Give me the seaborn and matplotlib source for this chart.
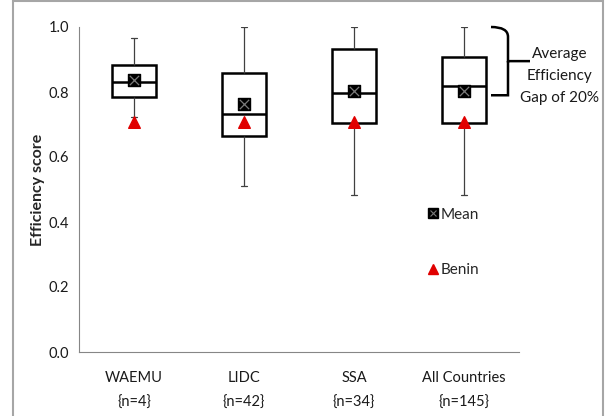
import numpy as np
import pandas as pd
import seaborn as sns
import matplotlib.pyplot as plt
from matplotlib.lines import Line2D
from matplotlib.path import Path
from matplotlib.patches import PathPatch

# five-number summaries (min, q1, median, q3, max)
groups = ["WAEMU", "LIDC", "SSA", "All Countries"]
counts = [4, 42, 34, 145]
mins = [0.724, 0.512, 0.483, 0.483]
q1s = [0.785, 0.666, 0.704, 0.704]
medians = [0.832, 0.732, 0.798, 0.817]
q3s = [0.883, 0.857, 0.931, 0.907]
maxs = [0.967, 1.0, 1.0, 1.0]
means = [0.838, 0.764, 0.804, 0.804]
benin = [0.708, 0.708, 0.708, 0.708]

sns.set_theme(style="white")
plt.rcParams["font.family"] = ["Lato", "DejaVu Sans"]

# with 5 points per group and whis=(0,100) the box stats equal the summary
rows = []
for g, a, b, c, d, e in zip(groups, mins, q1s, medians, q3s, maxs):
    for v in (a, b, c, d, e):
        rows.append({"group": g, "score": v})
df = pd.DataFrame(rows)

fig = plt.figure(figsize=(6.07, 4.16), dpi=100)
ax = fig.add_axes([79 / 607, 1 - 352 / 416, 440 / 607, 325 / 416])

sns.boxplot(data=df, x="group", y="score", order=groups, whis=(0, 100),
            width=0.4, color="white", linecolor="black", linewidth=1.8,
            whiskerprops={"linewidth": 0.9, "color": "#404040"},
            capprops={"linewidth": 0.9, "color": "#404040"},
            medianprops={"linewidth": 1.8, "color": "black"},
            capwidths=0.06, ax=ax)

pos = np.arange(len(groups))
ax.scatter(pos, means, marker="s", s=70, color="black", zorder=5)
ax.scatter(pos, means, marker="x", s=45, color="#7a7a7a", linewidths=0.9, zorder=6)
ax.scatter(pos, benin, marker="^", s=70, color="#e00000", zorder=5)

ax.set_xlim(-0.5, 3.5)
ax.set_ylim(0, 1.0)
ax.set_yticks(np.arange(0, 1.01, 0.2))
ax.set_yticklabels([f"{v:.1f}" for v in np.arange(0, 1.01, 0.2)], fontsize=10.5)
ax.set_xticks([-0.5, 0.5, 1.5, 2.5, 3.5])
ax.set_xticklabels([])
ax.set_xticks(pos, minor=True)
ax.set_xticklabels([f"{g}\n{{n={n}}}" for g, n in zip(groups, counts)],
                   minor=True, fontsize=10.5, linespacing=1.9)
ax.tick_params(axis="x", which="major", length=5, width=0.8, color="#868686", direction="out")
ax.tick_params(axis="x", which="minor", length=0, pad=14)
ax.tick_params(axis="y", length=4, width=0.8, color="#868686", direction="out", pad=3)
for side in ["top", "right"]:
    ax.spines[side].set_visible(False)
for side in ["left", "bottom"]:
    ax.spines[side].set_color("#868686")
    ax.spines[side].set_linewidth(0.8)
ax.set_xlabel("")
ax.set_ylabel("Efficiency score", fontsize=11.5, fontweight="bold", labelpad=3)
for t in ax.get_xticklabels(minor=True) + ax.get_yticklabels():
    t.set_color("#1a1a1a")

# legend
mean_h = (Line2D([], [], marker="s", ls="", color="black", markersize=6.5),
          Line2D([], [], marker="x", ls="", color="#7a7a7a", markersize=5, mew=0.8))
benin_h = Line2D([], [], marker="^", ls="", color="#e00000", markersize=7)
ax.legend([mean_h, benin_h], ["Mean", "Benin"], frameon=False, fontsize=11,
          handlelength=0.6, handletextpad=0.2, labelspacing=2.7,
          loc="upper left", bbox_to_anchor=(336 / 440, (352 - 194) / 325))

# curly brace for the gap annotation (data coords: x in category units)
x0, xs, xt = (491 - 134) / 110, (508 - 134) / 110, (530 - 134) / 110
yt, ym, yb = 1.0, 0.895, 0.79
verts = [(x0, yt), (xs, yt), (xs, yt - 0.03), (xs, yt - 0.05),
         (xs, ym + 0.02), (xs, ym), (xt, ym),
         (xs, ym), (xs, ym - 0.02), (xs, yb + 0.05),
         (xs, yb + 0.03), (xs, yb), (x0, yb)]
codes = [Path.MOVETO, Path.CURVE3, Path.CURVE3, Path.LINETO,
         Path.CURVE3, Path.CURVE3, Path.LINETO,
         Path.MOVETO, Path.CURVE3, Path.LINETO,
         Path.CURVE3, Path.CURVE3, Path.LINETO]
ax.add_patch(PathPatch(Path(verts, codes), fill=False, lw=1.8, color="black", clip_on=False))
fig.text(560 / 607, 1 - 76 / 416, "Average\nEfficiency\nGap of 20%", ha="center", va="center",
         fontsize=11, linespacing=1.75, color="#1a1a1a")

# outer frame
for xy in ([(13, 13), (0, 416)], [(603, 603), (0, 416)], [(13, 603), (1, 1)]):
    fig.add_artist(Line2D([v / 607 for v in xy[0]], [1 - v / 416 for v in xy[1]],
                          color="#a6a6a6", lw=1.5))

fig.savefig("out.png", dpi=100)
